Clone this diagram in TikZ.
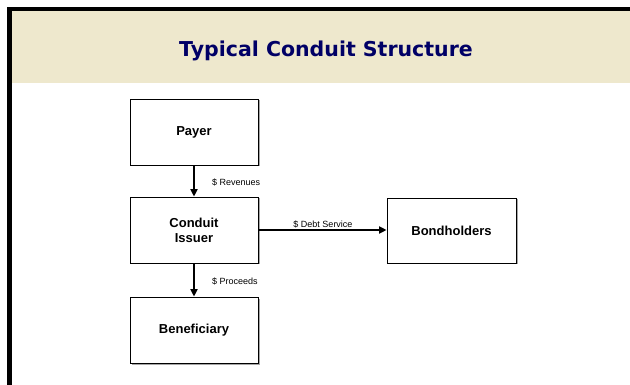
\documentclass[tikz,border=0pt]{standalone}
\usepackage{fontspec}
\setmainfont{Liberation Sans}
\newfontfamily\titlefont{DejaVu Sans}
\usetikzlibrary{shadows,arrows.meta}
\definecolor{bandbeige}{HTML}{EEE8CD}
\definecolor{titlenavy}{HTML}{000066}
\tikzset{
  party/.style={draw, line width=0.8pt, fill=white, minimum width=128pt, minimum height=66pt,
    align=center, font=\bfseries\fontsize{13}{15}\selectfont,
    drop shadow={shadow xshift=1.5pt, shadow yshift=-1.5pt, fill=gray!70, opacity=1}},
  flow/.style={line width=2pt, -{Triangle[length=7.5pt,width=7pt]}},
  flowlabel/.style={font=\fontsize{9}{10}\selectfont, inner sep=1pt}
}
\begin{document}
\begin{tikzpicture}[x=1pt,y=-1pt]
\useasboundingbox (0,0) rectangle (630,385);
\fill[white] (0,0) rectangle (630,385);
% title band and frame
\fill[bandbeige] (11.5,11) rectangle (630,83);
\fill (7,6.7) rectangle (630,11);
\fill (7,6.7) rectangle (11.7,385);
\node[text=titlenavy, font=\titlefont\bfseries\fontsize{20.5}{24}\selectfont, anchor=base] (title) at (326,56.5) {Typical Conduit Structure};
% parties
\node[party] (payer) at (194,132) {Payer};
\node[party] (issuer) at (194,230) {Conduit\\Issuer};
\node[party] (beneficiary) at (194,330) {Beneficiary};
\node[party, minimum width=129pt, minimum height=65pt] (bondholders) at (451.5,230.5) {Bondholders};
% flows
\draw[flow] (payer) -- (issuer);
\draw[flow] (issuer.east) -- (issuer.east -| bondholders.west);
\draw[flow] (issuer) -- (beneficiary);
\node[flowlabel, anchor=west] (revenues) at (211,182) {\$ Revenues};
\node[flowlabel] (debtservice) at (323,224) {\$ Debt Service};
\node[flowlabel, anchor=west] (proceeds) at (211,281) {\$ Proceeds};
\end{tikzpicture}
\end{document}
